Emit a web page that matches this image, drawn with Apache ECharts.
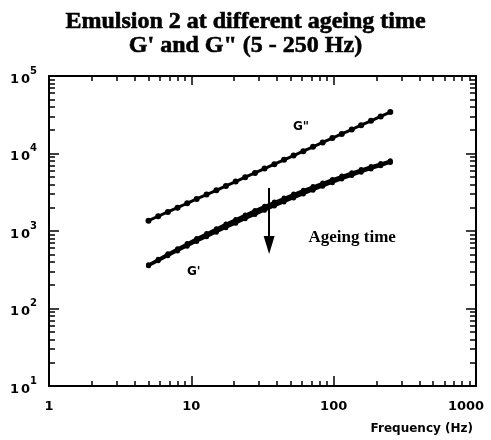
<!DOCTYPE html>
<html>
<head>
<meta charset="utf-8">
<script src="https://cdn.jsdelivr.net/npm/echarts@6/dist/echarts.min.js"></script>
<style>html,body{margin:0;padding:0;background:#fff}#c{width:491px;height:440px}</style>
</head>
<body>
<div id="c"></div>
<script>
// Frequency (Hz)
const freq = [5, 5.85, 6.84, 8.0, 9.35, 10.9, 12.8, 15.0, 17.5, 20.5, 23.9, 28.0, 32.7, 38.3, 44.8, 52.3, 61.2, 71.6, 83.7, 97.9, 114, 134, 156, 183, 214, 250];
// G'' (loss modulus)
const gpp = [1360, 1550, 1760, 2000, 2280, 2590, 2950, 3350, 3820, 4340, 4940, 5620, 6400, 7280, 8280, 9420, 10700, 12200, 13900, 15800, 17900, 20400, 23200, 26400, 30100, 34200];
// G' (storage modulus) at three ageing times
const gp1 = [367, 432, 507, 592, 690, 802, 928, 1071, 1232, 1412, 1614, 1838, 2086, 2360, 2662, 2992, 3353, 3745, 4169, 4626, 5115, 5638, 6194, 6784, 7405, 8058];
const gp2 = [360, 421, 492, 572, 664, 768, 885, 1018, 1168, 1336, 1526, 1736, 1968, 2226, 2511, 2826, 3170, 3548, 3958, 4400, 4880, 5390, 5940, 6530, 7150, 7820];
const gp3 = [355, 412, 478, 553, 637, 734, 842, 964, 1102, 1258, 1434, 1630, 1850, 2094, 2366, 2668, 3000, 3366, 3768, 4200, 4680, 5190, 5740, 6330, 6960, 7650];
// Tick values
const xMajor = [1, 10, 100, 1000];
const xMinor = [2, 3, 4, 5, 6, 7, 8, 9, 20, 30, 40, 50, 60, 70, 80, 90, 200, 300, 400, 500, 600, 700, 800, 900];
const yMajor = [10, 100, 1000, 10000, 100000];
const yMinor = [20, 30, 40, 50, 60, 70, 80, 90, 200, 300, 400, 500, 600, 700, 800, 900, 2000, 3000, 4000, 5000, 6000, 7000, 8000, 9000, 20000, 30000, 40000, 50000, 60000, 70000, 80000, 90000];

const SANS = 'DejaVu Sans';
const SERIF = 'Liberation Serif';
const pairs = arr => freq.map((f, i) => [f, arr[i]]);

function xAx(pos, ticks, len, main) {
  return {
    type: 'log', logBase: 10, min: 1, max: 1000, position: pos,
    axisLine: { show: main, onZero: false, lineStyle: { color: '#000', width: 2 } },
    axisTick: { show: true, inside: true, length: len, customValues: ticks, lineStyle: { color: '#000', width: 1.5 } },
    axisLabel: main && pos === 'bottom' ? {
      show: true, customValues: xMajor, margin: 14, color: '#000',
      fontFamily: SANS, fontWeight: 'bold', fontSize: 13,
      formatter: v => Math.round(v) === 1000 ? '{e|1000}' : String(Math.round(v)),
      rich: { e: { fontFamily: SANS, fontWeight: 'bold', fontSize: 13, color: '#000', padding: [0, 20, 0, 0] } }
    } : { show: false },
    splitLine: { show: false }, minorTick: { show: false }, minorSplitLine: { show: false }
  };
}
function yAx(pos, ticks, len, main) {
  return {
    type: 'log', logBase: 10, min: 10, max: 100000, position: pos,
    axisLine: { show: main, onZero: false, lineStyle: { color: '#000', width: 2 } },
    axisTick: { show: true, inside: true, length: len, customValues: ticks, lineStyle: { color: '#000', width: 1.5 } },
    axisLabel: main && pos === 'left' ? {
      show: true, customValues: yMajor, margin: 12, color: '#000',
      formatter: v => '{a|1}{b|0}{s|' + Math.round(Math.log10(v)) + '}',
      rich: {
        a: { fontFamily: SANS, fontWeight: 'bold', fontSize: 13, color: '#000', verticalAlign: 'bottom', lineHeight: 20 },
        b: { fontFamily: SANS, fontWeight: 'bold', fontSize: 13, color: '#000', padding: [0, 0, 0, 2], verticalAlign: 'bottom', lineHeight: 20 },
        s: { fontFamily: SANS, fontWeight: 'bold', fontSize: 10, color: '#000', verticalAlign: 'top', lineHeight: 12 }
      }
    } : { show: false },
    splitLine: { show: false }, minorTick: { show: false }, minorSplitLine: { show: false }
  };
}

function lineSeries(name, arr, width, size, extra) {
  return Object.assign({
    name: name, type: 'line', data: pairs(arr), xAxisIndex: 0, yAxisIndex: 0,
    symbol: 'circle', symbolSize: size, showSymbol: true,
    lineStyle: { color: '#000', width: width }, itemStyle: { color: '#000' },
    animation: false, z: 3
  }, extra || {});
}

const chart = echarts.init(document.getElementById('c'), null, { renderer: 'canvas' });
chart.setOption({
  backgroundColor: '#fff',
  animation: false,
  title: {
    text: 'Emulsion 2 at different ageing time\nG\' and G" (5 - 250 Hz)',
    left: 'center', top: 5,
    textStyle: { fontFamily: SERIF, fontWeight: 'bold', fontSize: 24, lineHeight: 24, color: '#000', textBorderColor: '#000', textBorderWidth: 0.6 }
  },
  grid: { left: 49, right: 15, top: 76, bottom: 54, containLabel: false, outerBoundsMode: 'none' },
  xAxis: [
    xAx('bottom', xMajor, 10, true),
    xAx('bottom', xMinor, 5, false),
    xAx('top', xMajor, 9, true),
    xAx('top', xMinor, 5, false)
  ],
  yAxis: [
    yAx('left', yMajor, 10, true),
    yAx('left', yMinor, 6, false),
    yAx('right', yMajor, 10, true),
    yAx('right', yMinor, 6, false)
  ],
  graphic: [{
    type: 'text', right: 18, top: 423,
    style: { text: 'Frequency (Hz)', fontFamily: SANS, fontWeight: 'bold', fontSize: 12, fill: '#000' }
  }],
  series: [
    lineSeries('G"', gpp, 3, 6, {
      markPoint: {
        symbol: 'circle', symbolSize: 0, silent: true,
        label: { show: true, position: 'inside', color: '#000', fontFamily: SANS, fontWeight: 'bold', fontSize: 12, formatter: p => p.name },
        data: [{ name: 'G"', coord: [59, 22000] }, { name: "G'", coord: [10.4, 296] }]
      }
    }),
    lineSeries("G' t1", gp1, 2.5, 5),
    lineSeries("G' t2", gp2, 2.5, 5),
    lineSeries("G' t3", gp3, 2.5, 5, {
      markLine: {
        silent: true, symbol: ['none', 'triangle'], symbolSize: 15,
        lineStyle: { color: '#000', width: 2, type: 'solid' },
        label: { show: false },
        data: [[{ coord: [35.2, 3590], symbol: 'none' }, { coord: [35.2, 660], symbol: 'triangle', symbolSize: [11, 18] }]]
      },
      markPoint: {
        symbol: 'circle', symbolSize: 0, silent: true,
        label: { show: true, position: 'inside', color: '#000', fontFamily: SERIF, fontWeight: 'bold', fontSize: 17, formatter: p => p.name },
        data: [{ name: 'Ageing time', coord: [135, 824] }]
      }
    })
  ]
});
</script>
</body>
</html>
